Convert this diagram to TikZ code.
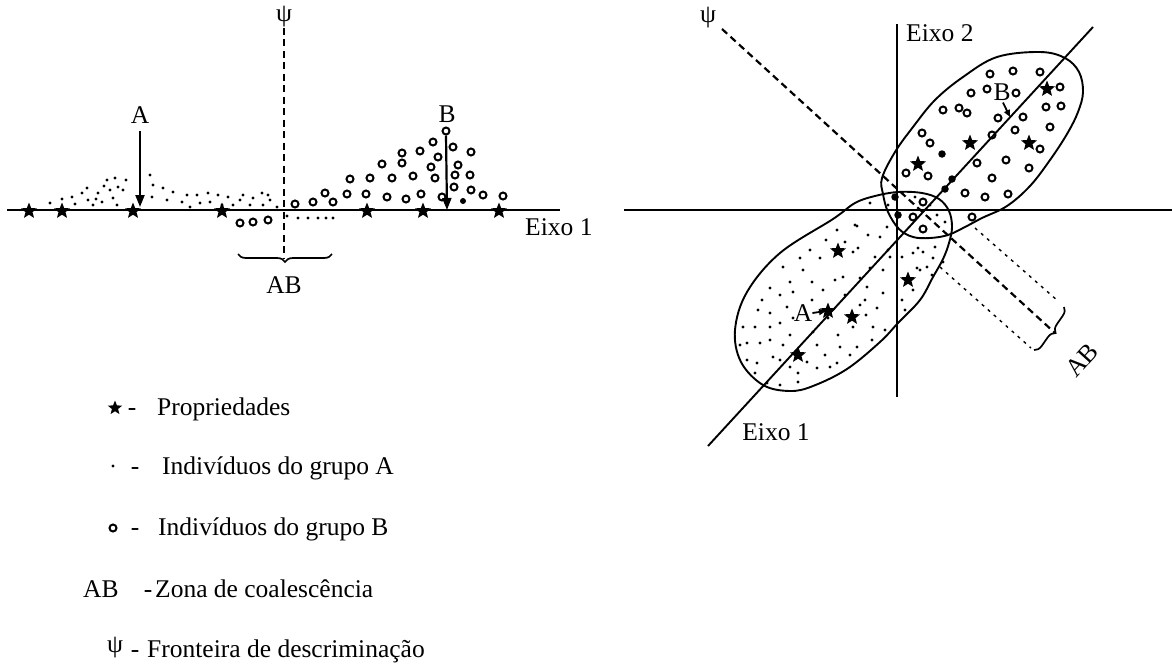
\documentclass[tikz,border=0pt]{standalone}
\usepackage{fontspec}
\setmainfont{Liberation Serif}
\usetikzlibrary{shapes.geometric,arrows.meta,decorations.pathreplacing}
\tikzset{
  ax/.style={line width=1.9pt},
  lbl/.style={font=\fontsize{25.5}{30}\selectfont, inner sep=0pt},
  prop/.style={star, star points=5, star point ratio=2.3, fill=black, inner sep=0pt, minimum size=17pt},
  indB/.style={circle, draw, line width=2pt, inner sep=0pt, minimum size=7pt},
  indBf/.style={circle, fill=black, inner sep=0pt, minimum size=7.5pt},
  indA/.style={circle, fill=black, inner sep=0pt, minimum size=3.2pt},
  psiline/.style={line width=2.2pt, dash pattern=on 7pt off 4.5pt},
  dotline/.style={line width=1.4pt, dash pattern=on 3pt off 5pt},
  arr/.style={line width=2.2pt, -{Triangle[length=12pt,width=9pt]}},
  arrsm/.style={line width=1.8pt, -{Triangle[length=7pt,width=6pt]}},
  blob/.style={line width=1.9pt},
  bracestyle/.style={line width=1.7pt, decorate},
}
\begin{document}
\begin{tikzpicture}[x=1pt,y=-1pt]
\fill[white] (0,0) rectangle (1172,670);
\useasboundingbox (0,0) rectangle (1172,670);

% ================= LEFT PANEL =================
\coordinate (axL0) at (7,210);
\coordinate (axL1) at (560,210);
\draw[ax] (axL0) -- (axL1);
\node[lbl, anchor=west] (eixoL) at (525,227) {Eixo 1};

% psi boundary
\node[lbl] (psiL) at (284,17) {ψ};
\coordinate (psiLend) at (284,258);
\draw[psiline] (psiL.south) -- (psiLend);

% brace AB
\coordinate (brL0) at (238,254);
\coordinate (brL1) at (332,254);
\draw[bracestyle, decoration={brace, amplitude=8pt, mirror}] (brL0) -- (brL1);
\node[lbl] (ABL) at (284,285) {AB};

% group A dots
\foreach \x/\y [count=\i] in {50/203,62/199,72/197,75/204,82/193,87/188,88/200,93/205,98/193,102/202,107/180,110/190,113/198,115/178,117/205,123/190,126/180,118/187,104/186,96/199,
153/185,152/197,163/188,167/200,173/192,182/202,187/195,190/207,197/195,200/203,208/193,210/202,218/195,222/205,228/197,233/205,240/200,243/195,250/205,253/198,262/193,263/205,268/195,270/200,277/207,150/175,
287/216,298/218,308/218,318/218,326/218,333/218}
  \node[indA] (dAL\i) at (\x,\y) {};

% group B circles
\foreach \x/\y [count=\i] in {295/204,313/202,325/193,333/202,347/194,350/179,366/194,370/178,382/164,387/197,392/178,402/153,402/163,406/199,413/176,420/151,421/194,431/167,433/142,435/178,438/157,442/197,453/147,455/175,458/165,454/187,471/152,470/175,471/190,483/195,503/196,
240/223,253/222,268/220}
  \node[indB] (cBL\i) at (\x,\y) {};
\node[indBf, minimum size=6pt] (fBL1) at (463,201) {};

% properties (stars)
\foreach \x [count=\i] in {29,62,133,222,367,423,499}
  \node[prop] (sL\i) at (\x,211) {};

% A and B arrows
\node[lbl] (lAL) at (140,115) {A};
\coordinate (tAL) at (140,207);
\draw[arr] (lAL.south) ++(0,7) -- (tAL);
\node[lbl] (lBL) at (447,114) {B};
\node[indB] (cBtop) at (446,131) {};
\coordinate (tBL) at (447,210);
\draw[arr] (cBtop.south) -- (tBL);

% ================= RIGHT PANEL =================
\coordinate (hx0) at (624,210);
\coordinate (hx1) at (1172,210);
\draw[ax] (hx0) -- (hx1);
\coordinate (vy0) at (897,24);
\coordinate (vy1) at (897,397);
\draw[ax] (vy0) -- (vy1);
\node[lbl, anchor=west] (eixo2) at (906,33) {Eixo 2};
\coordinate (d0) at (708,446);
\coordinate (d1) at (1093,27);
\draw[ax] (d0) -- (d1);
\node[lbl] (eixo1R) at (776,432) {Eixo 1};

% psi boundary (right)
\node[lbl] (psiR) at (708,18) {ψ};
\coordinate (psiR0) at (722,29);
\coordinate (psiR1) at (1055,333);
\draw[psiline] (psiR0) -- (psiR1);

% extension lines for AB
\coordinate (eu0) at (975,228);
\coordinate (eu1) at (1058,301);
\coordinate (el0) at (940,267);
\coordinate (el1) at (1031,348);
\draw[dotline] (eu0) -- (eu1);
\draw[dotline] (el0) -- (el1);
\coordinate (brR0) at (1064,307);
\coordinate (brR1) at (1034,350);
\draw[bracestyle, decoration={brace, amplitude=8pt}] (brR0) -- (brR1);
\node[lbl, rotate=48] (ABR) at (1082,360) {AB};

% group B region (upper blob)
\draw[blob] plot[smooth cycle, tension=0.6] coordinates {
 (882,178) (895,152) (913,127) (935,100) (963,77) (997,57) (1040,52) (1065,58) (1079,72) (1083,92) (1078,112) (1067,134) (1050,160) (1030,186) (1007,206) (982,218) (965,227) (948,235) (930,238) (913,237) (899,229) (888,212) (883,194)};

% group A region (lower blob)
\draw[blob] plot[smooth cycle, tension=0.6] coordinates {
 (855,203) (875,196) (898,192) (922,193) (939,199) (949,211) (952,227) (949,243) (943,259) (933,277) (920,300) (898,323) (880,342) (847,369) (813,386) (790,391) (763,385) (741,362) (735,330) (747,292) (780,253) (833,219)};

% group A dots (right)
\foreach \x/\y [count=\i] in {853/252,837/230,857/226,868/235,880/237,887/227,820/258,803/270,783/267,790/282,812/282,823/290,835/280,843/277,860/278,867/287,870/268,883/270,890/257,770/288,780/295,793/292,758/310,770/313,787/307,845/295,865/300,883/293,877/308,860/305,743/327,755/327,770/327,780/323,790/335,813/332,838/335,853/327,873/327,885/330,747/343,760/343,770/340,783/345,817/345,840/347,857/347,872/340,747/360,757/363,773/357,780/360,790/367,807/362,825/355,837/363,755/373,767/383,780/385,798/373,817/368,798/382,830/367,
902/257,913/253,923/252,920/270,927/267,913/290,902/300,
870/203,888/205,915/197,930/205,937/215,945/222,855/225,858/248,888/250,875/257,918/248,935/247,933/258,943/262,917/268,932/275,905/310,810/250,826/240,845/242,800/258,762/300,812/300,828/318,850/355,866/315,793/318,740/345}
  \node[indA] (dAR\i) at (\x,\y) {};

% group B circles (right)
\foreach \x/\y [count=\i] in {990/74,1013/71,1040/72,1060/87,971/93,987/89,1016/93,943/110,959/108,967/113,998/118,1023/117,1046/107,1061/106,1050/127,922/133,930/143,992/135,1015/130,1040/149,906/173,928/176,977/163,1006/160,1029/168,965/193,985/197,1008/194,992/178,972/217,923/202,913/217,923/229}
  \node[indB] (cBR\i) at (\x,\y) {};
\foreach \x/\y [count=\i] in {942/154,952/179,945/189,895/197,898/215}
  \node[indBf] (fBR\i) at (\x,\y) {};

% properties (right)
\foreach \x/\y [count=\i] in {1047/89,970/143,1029/143,918/164,838/251,908/280,828/311,852/317,798/355}
  \node[prop] (sR\i) at (\x,\y) {};

% A and B labels with arrows (right)
\node[lbl] (lAR) at (803,313) {A};
\coordinate (tAR) at (826,311);
\draw[arrsm] (lAR.east) -- (tAR);
\node[lbl] (lBR) at (1002,92) {B};
\coordinate (tBR) at (1010,117);
\draw[arrsm] (lBR.south) ++(1,2) -- (tBR);

% ================= LEGEND =================
\node[prop, minimum size=15pt] (lgS) at (115,408) {};
\node[lbl, anchor=base] (lgH1) at (132,415) {-};
\node[lbl, anchor=base west] (lgT1) at (157,415) {Propriedades};

\node[indA] (lgA) at (113,466) {};
\node[lbl, anchor=base] (lgH2) at (135,474) {-};
\node[lbl, anchor=base west] (lgT2) at (162,474) {Indivíduos do grupo A};

\node[indB] (lgB) at (113,528) {};
\node[lbl, anchor=base] (lgH3) at (135,535) {-};
\node[lbl, anchor=base west] (lgT3) at (158,535) {Indivíduos do grupo B};

\node[lbl, anchor=base west] (lgAB) at (83,597) {AB};
\node[lbl, anchor=base] (lgH4) at (148,597) {-};
\node[lbl, anchor=base west] (lgT4) at (155,597) {Zona de coalescência};

\node[lbl] (lgP) at (115,648) {ψ};
\node[lbl, anchor=base] (lgH5) at (135,657) {-};
\node[lbl, anchor=base west] (lgT5) at (147,657) {Fronteira de descriminação};
\end{tikzpicture}
\end{document}
